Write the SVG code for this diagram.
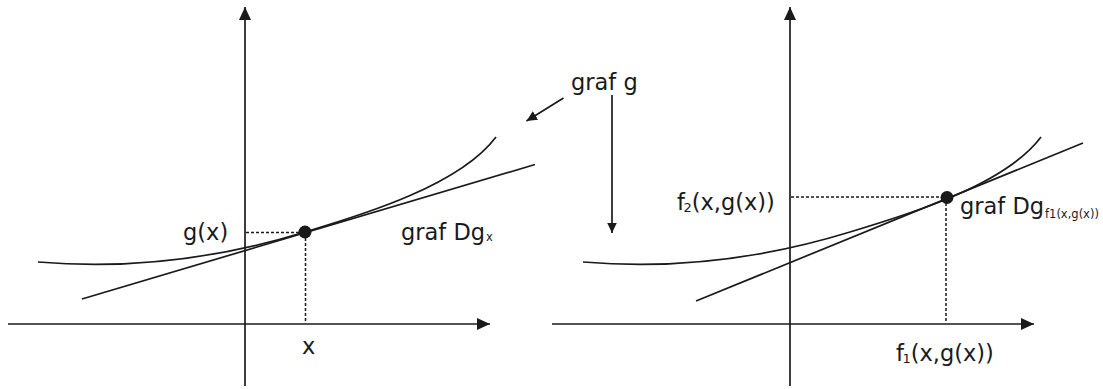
<svg xmlns="http://www.w3.org/2000/svg" width="1103" height="389" viewBox="0 0 1103 389">
  <style>
    .ln { fill: none; stroke: #1a1a1a; stroke-width: 1.7; }
    .ds { fill: none; stroke: #1a1a1a; stroke-width: 1.5; stroke-dasharray: 3 2; }
    .tx { font-family: "DejaVu Sans", Verdana, sans-serif; font-size: 22.5px; fill: #1a1a1a; }
    .sub { font-size: 11.5px; }
    .sub2 { font-size: 13px; }
  </style>
  <defs>
    <marker id="axhead" markerUnits="userSpaceOnUse" markerWidth="14" markerHeight="12" refX="13" refY="6" orient="auto">
      <path d="M0,0 L13,6 L0,12 Z" fill="#1a1a1a"/>
    </marker>
    <marker id="smhead" markerUnits="userSpaceOnUse" markerWidth="11" markerHeight="10" refX="10.5" refY="5" orient="auto">
      <path d="M0,0 L10.5,5 L0,10 Z" fill="#1a1a1a"/>
    </marker>
    <path id="curve" d="M38,262 C130,270 220,258 305,232 C365,214.2 460,185 496,137"/>
  </defs>

  <g id="connectors">
    <!-- left axes -->
    <line class="ln" x1="245" y1="386" x2="245" y2="7" marker-end="url(#axhead)"/>
    <line class="ln" x1="8" y1="324" x2="490" y2="324" marker-end="url(#axhead)"/>
    <!-- right axes -->
    <line class="ln" x1="790" y1="386" x2="790" y2="7" marker-end="url(#axhead)"/>
    <line class="ln" x1="552" y1="324" x2="1034" y2="324" marker-end="url(#axhead)"/>
    <!-- graf g arrows -->
    <line class="ln" x1="563.5" y1="98" x2="526.5" y2="121" marker-end="url(#smhead)"/>
    <line class="ln" x1="612" y1="95" x2="612" y2="233" marker-end="url(#smhead)"/>
    <!-- dashed guides -->
    <line class="ds" x1="246" y1="232.5" x2="300" y2="232.5"/>
    <line class="ds" x1="305.5" y1="238" x2="305.5" y2="323"/>
    <line class="ds" x1="791" y1="197" x2="941" y2="197"/>
    <line class="ds" x1="946" y1="203" x2="946" y2="323"/>
  </g>

  <g id="left-graph">
    <use href="#curve" class="ln"/>
    <line class="ln" x1="82" y1="299" x2="535" y2="164.5"/>
    <circle cx="305" cy="232" r="6.5" fill="#1a1a1a"/>
  </g>

  <g id="right-graph">
    <use href="#curve" class="ln" transform="translate(545,0)"/>
    <line class="ln" x1="696" y1="301" x2="1083" y2="143"/>
    <circle cx="947" cy="197.5" r="6.5" fill="#1a1a1a"/>
  </g>

  <g id="label-gx"><text class="tx" x="183" y="240">g(x)</text></g>
  <g id="label-x"><text class="tx" x="302" y="354">x</text></g>
  <g id="label-grafDgx"><text class="tx" x="401" y="240">graf Dg<tspan class="sub" dx="1" dy="1">x</tspan></text></g>
  <g id="label-grafg"><text class="tx" x="571" y="90">graf g</text></g>
  <g id="label-f2"><text class="tx" x="677" y="210">f<tspan class="sub2" dx="-1.5" dy="2">2</tspan><tspan dy="-2">(x,g(x))</tspan></text></g>
  <g id="label-grafDgf1"><text class="tx" x="960" y="214">graf Dg<tspan class="sub" dx="1" dy="3.5">f1(x,g(x))</tspan></text></g>
  <g id="label-f1"><text class="tx" x="896" y="361">f<tspan class="sub2" dx="-1.5" dy="2">1</tspan><tspan dy="-2">(x,g(x))</tspan></text></g>
</svg>
